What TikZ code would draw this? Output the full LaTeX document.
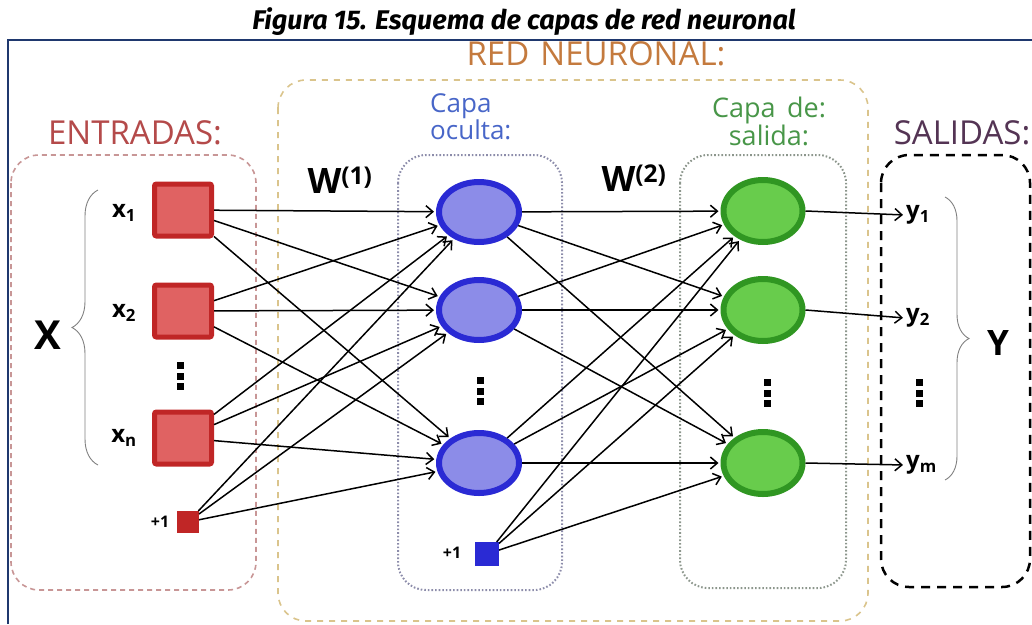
\documentclass[tikz,border=0pt]{standalone}
\usepackage{fontspec}
\setmainfont{Open Sans}
\newfontfamily\titlefont{Fira Sans}
\usetikzlibrary{shapes.geometric,arrows.meta,decorations.pathreplacing}

\definecolor{inred}{RGB}{224,98,98}
\definecolor{inredb}{RGB}{192,38,38}
\definecolor{hidblue}{RGB}{140,140,232}
\definecolor{hidblueb}{RGB}{42,42,212}
\definecolor{outgreen}{RGB}{104,204,76}
\definecolor{outgreenb}{RGB}{48,150,34}
\definecolor{frameblue}{RGB}{31,56,110}
\definecolor{txtred}{RGB}{180,74,74}
\definecolor{txtorange}{RGB}{196,122,62}
\definecolor{txtblue}{RGB}{72,102,200}
\definecolor{txtgreen}{RGB}{72,150,72}
\definecolor{txtpurple}{RGB}{84,52,84}

\begin{document}
\begin{tikzpicture}[x=1pt,y=-1pt,
	inbox/.style={draw=inredb, fill=inred, line width=5pt, minimum width=57pt, minimum height=52pt, rounded corners=2pt, outer sep=2.5pt},
	biasin/.style={draw=inredb, fill=inredb, line width=1pt, minimum size=21pt, outer sep=0.5pt},
	hidnode/.style={ellipse, draw=hidblueb, fill=hidblue, line width=6pt, minimum width=80pt, minimum height=60pt, outer sep=3pt},
	biashid/.style={draw=hidblueb, fill=hidblueb, line width=1pt, minimum size=23pt, outer sep=0.5pt},
	outnode/.style={ellipse, draw=outgreenb, fill=outgreen, line width=6pt, minimum width=79pt, minimum height=62pt, outer sep=3pt},
	syn/.style={-{Straight Barb[length=7pt,width=12pt]}, line width=1.5pt, shorten >=2pt},
	lab/.style={font=\bfseries\fontsize{24}{24}\selectfont, inner sep=1pt},
	bias/.style={font=\bfseries\fontsize{16}{16}\selectfont, inner sep=1pt},
	layer/.style={rounded corners=28pt, line width=1.6pt},
	title/.style={font=\fontsize{33}{33}\selectfont}]
	\useasboundingbox (0,0) rectangle (1032,624);
	% frame and title
	\draw[frameblue, line width=2pt] (8,624)--(8,40)--(1032,40);
	\node[font=\titlefont\bfseries\itshape\fontsize{27}{27}\selectfont] (tit) at (524,22) {Figura 15. Esquema de capas de red neuronal};
	% dashed boxes
	\draw[layer, dash pattern=on 6pt off 6pt, color={rgb,255:red,218;green,196;blue,140}] (278,80) rectangle (868,621);
	\draw[layer, dash pattern=on 5pt off 4pt, color={rgb,255:red,200;green,150;blue,150}] (11,155) rectangle (256,590);
	\draw[layer, dotted, color={rgb,255:red,140;green,140;blue,170}, line width=2pt] (398,155) rectangle (562,590);
	\draw[layer, dotted, color={rgb,255:red,140;green,150;blue,140}, line width=2pt] (680,155) rectangle (846,588);
	\draw[layer, dash pattern=on 9pt off 7pt, line width=2.5pt] (881,155) rectangle (1030,587);
	% box titles
	\node[title, text=txtorange] (tred) at (596,54) {RED\,\,NEURONAL:};
	\node[title, text=txtred] (tin) at (135,133) {ENTRADAS:};
	\node[title, text=txtpurple] (tout) at (962,133) {SALIDAS:};
	\node[font=\fontsize{26}{17}\selectfont, text=txtblue, align=left, anchor=west, inner sep=0pt] (thid) at (430,117) {Capa\\oculta:};
	\node[font=\fontsize{27}{25}\selectfont, text=txtgreen, align=center, inner sep=0pt] (tsal) at (769,121) {Capa\, de:\\salida:};
	% neurons
	\node[inbox] (x1) at (183,210) {};
	\node[inbox] (x2) at (183,311) {};
	\node[inbox] (xn) at (183,438) {};
	\node[biasin] (b1) at (188,522) {};
	\node[hidnode] (h1) at (479,212) {};
	\node[hidnode] (h2) at (479,310) {};
	\node[hidnode] (hn) at (479,463) {};
	\node[biashid] (b2) at (487,554) {};
	\node[outnode] (o1) at (763,211) {};
	\node[outnode] (o2) at (763,310) {};
	\node[outnode] (om) at (763,463) {};
	% labels
	\node[lab] (lx1) at (124,213) {x\textsubscript{1}};
	\node[lab] (lx2) at (124,313) {x\textsubscript{2}};
	\node[lab] (lxn) at (124,438) {x\textsubscript{n}};
	\node[bias] (lb1) at (160,522) {+1};
	\node[bias] (lb2) at (452,553) {+1};
	\node[lab, anchor=west] (ly1) at (905,215) {y\textsubscript{1}};
	\node[lab, anchor=west] (ly2) at (905,318) {y\textsubscript{2}};
	\node[lab, anchor=west] (lym) at (905,465) {y\textsubscript{m}};
	\node[font=\bfseries\fontsize{40}{40}\selectfont] (bigx) at (48,335) {X};
	\node[font=\bfseries\fontsize{35}{35}\selectfont] (bigy) at (998,343) {Y};
	\node[font=\bfseries\fontsize{35}{35}\selectfont] (w1) at (340,180) {W\textsuperscript{(1)}};
	\node[font=\bfseries\fontsize{35}{35}\selectfont] (w2) at (634,178) {W\textsuperscript{(2)}};
	% dots
	\foreach \dx/\dy in {180/362, 480/377, 767/379, 919/379}
		\foreach \k in {0,1,2}
			\fill (\dx-3.5,\dy+\k*10.5) rectangle +(7,7);
	% braces
	\draw[gray, line width=0.9pt, decorate, decoration={brace, amplitude=26pt}] (98,465)--(98,190);
	\draw[gray, line width=0.9pt, decorate, decoration={brace, amplitude=24pt}] (945,197)--(945,480);
	% connections
	\foreach \a in {x1,x2,xn,b1}
		\foreach \b in {h1,h2,hn}
			\draw[syn] (\a)--(\b);
	\foreach \a in {h1,h2,hn,b2}
		\foreach \b in {o1,o2,om}
			\draw[syn] (\a)--(\b);
	\draw[syn] (o1.east)--(ly1.west);
	\draw[syn] (o2.east)--(ly2.west);
	\draw[syn] (om.east)--(lym.west);
\end{tikzpicture}
\end{document}
